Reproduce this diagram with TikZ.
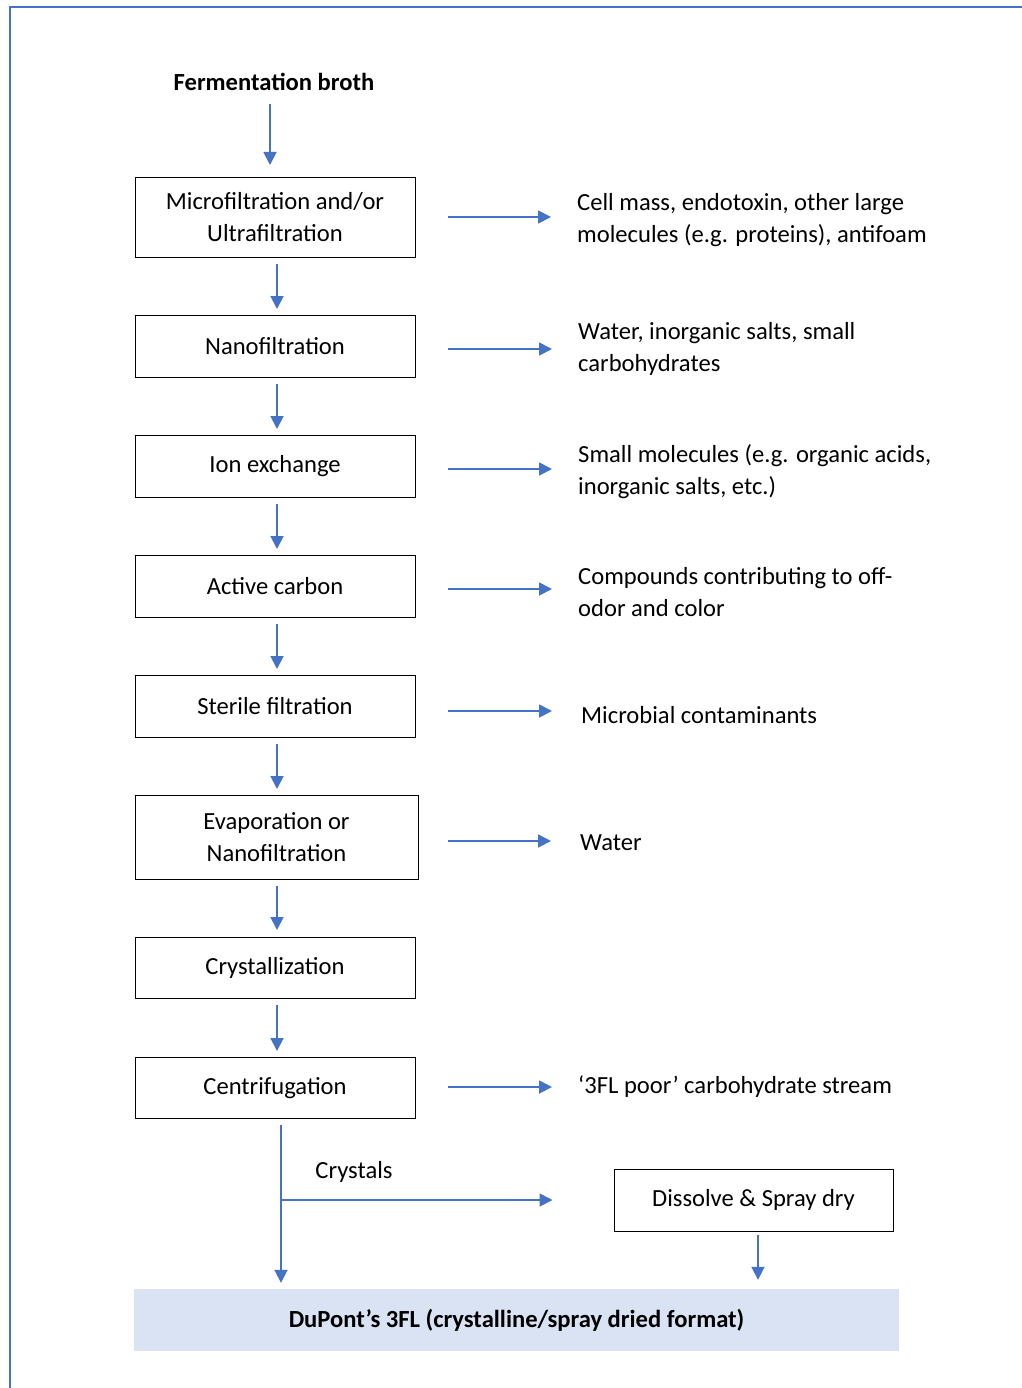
\documentclass[tikz,border=0pt]{standalone}
\usepackage{fontspec}
\setmainfont{Carlito}
\usetikzlibrary{arrows.meta}
\definecolor{ablue}{HTML}{4472C4}
\definecolor{fillblue}{HTML}{DAE3F3}
\begin{document}
\begin{tikzpicture}[x=1pt,y=-1pt,
  every node/.style={font=\fontsize{24.6}{32}\selectfont, inner sep=0pt},
  procbox/.style={draw=black, line width=1pt, minimum width=280pt, minimum height=62pt, align=center},
  sidetext/.style={anchor=west, align=left},
  arr/.style={draw=ablue, line width=1.8pt, -{Triangle[width=13pt,length=13pt]}},
  hlink/.style={arr, shorten <=32pt, shorten >=26pt},
  vlink/.style={arr, shorten <=6pt, shorten >=6pt}]
\useasboundingbox (0,0) rectangle (1021,1388);
\draw[ablue, line width=2.2pt] (10,1390) -- (10,7) -- (1023,7);

\node[font=\fontsize{24.6}{32}\selectfont\bfseries] (fb) at (274,82) {Fermentation broth};
\node[procbox, minimum height=80pt] (b1) at (275,217.5) {Microfiltration and/or\\Ultrafiltration};
\node[procbox] (b2) at (275,346.5) {Nanofiltration};
\node[procbox] (b3) at (275,466.5) {Ion exchange};
\node[procbox] (b4) at (275,586.5) {Active carbon};
\node[procbox] (b5) at (275,706.5) {Sterile filtration};
\node[procbox, minimum width=283pt, minimum height=84pt] (b6) at (276.5,837.5) {Evaporation or\\Nanofiltration};
\node[procbox, minimum height=61pt] (b7) at (275,968) {Crystallization};
\node[procbox, minimum height=61pt] (b8) at (275,1088) {Centrifugation};
\node[procbox, minimum width=279pt] (b9) at (753.5,1200) {Dissolve \& Spray dry};
\node[fill=fillblue, minimum width=765pt, minimum height=62pt, font=\fontsize{24.6}{32}\selectfont\bfseries] (out) at (516.5,1320) {DuPont’s 3FL (crystalline/spray dried format)};

\node[sidetext] (t1) at (577,220) {Cell mass, endotoxin, other large\\molecules (e.g. proteins), antifoam};
\node[sidetext] (t2) at (578,349) {Water, inorganic salts, small\\carbohydrates};
\node[sidetext] (t3) at (578,472) {Small molecules (e.g. organic acids,\\inorganic salts, etc.)};
\node[sidetext] (t4) at (578,592) {Compounds contributing to off-\\odor and color};
\node[sidetext] (t5) at (581,715) {Microbial contaminants};
\node[sidetext] (t6) at (580,843) {Water};
\node[sidetext] (t8) at (578,1087) {‘3FL poor’ carbohydrate stream};
\node (cr) at (354,1172) {Crystals};

\draw[arr, shorten <=13pt, shorten >=12pt] ([xshift=-4pt]fb.south) -- ([xshift=-5pt]b1.north);
\draw[vlink] ([xshift=2pt]b1.south) -- ([xshift=2pt]b2.north);
\draw[vlink] ([xshift=2pt]b2.south) -- ([xshift=2pt]b3.north);
\draw[vlink] ([xshift=2pt]b3.south) -- ([xshift=2pt]b4.north);
\draw[vlink] ([xshift=2pt]b4.south) -- ([xshift=2pt]b5.north);
\draw[vlink] ([xshift=2pt]b5.south) -- ([xshift=2pt]b5.south |- b6.north);
\draw[vlink, shorten >=7pt] ([xshift=0.5pt]b6.south) -- ([xshift=0.5pt]b6.south |- b7.north);
\draw[vlink] ([xshift=2pt]b7.south) -- ([xshift=2pt]b8.north);

\draw[hlink] ([yshift=0.5pt]b1.east) -- ([yshift=0.5pt]b1.east -| t1.west);
\draw[hlink] ([yshift=-2.5pt]b2.east) -- ([yshift=-2.5pt]b2.east -| t2.west);
\draw[hlink] ([yshift=-2.5pt]b3.east) -- ([yshift=-2.5pt]b3.east -| t3.west);
\draw[hlink] ([yshift=-2.5pt]b4.east) -- ([yshift=-2.5pt]b4.east -| t4.west);
\draw[hlink, shorten >=29pt] ([yshift=-4.5pt]b5.east) -- ([yshift=-4.5pt]b5.east -| t5.west);
\draw[hlink, shorten <=29pt, shorten >=29pt] ([yshift=-3.5pt]b6.east) -- ([yshift=-3.5pt]b6.east -| t6.west);
\draw[hlink] ([yshift=1pt]b8.east) -- ([yshift=1pt]b8.east -| t8.west);

\draw[arr, shorten <=6pt, shorten >=6pt] ([xshift=6pt]b8.south) -- ([xshift=6pt]b8.south |- out.north);
\coordinate (br) at (281,1200);
\draw[arr, shorten >=61pt] (br) -- (br -| b9.west);
\draw[arr, shorten <=3pt, shorten >=9pt] ([xshift=4.5pt]b9.south) -- ([xshift=4.5pt]b9.south |- out.north);
\end{tikzpicture}
\end{document}
